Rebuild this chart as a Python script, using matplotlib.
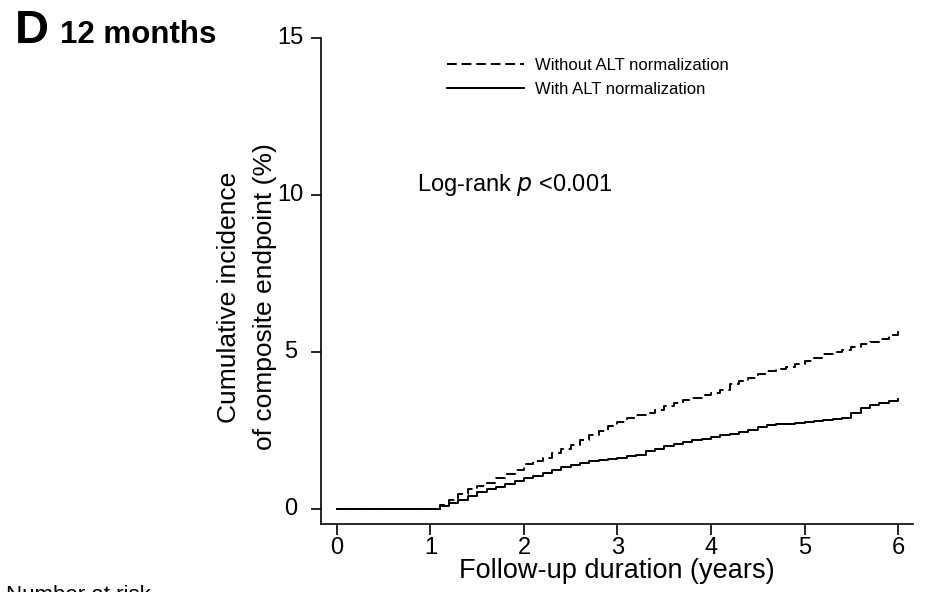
import matplotlib
matplotlib.use("Agg")
import matplotlib.pyplot as plt

plt.rcParams['font.family'] = ['Liberation Sans', 'DejaVu Sans']

# Data
years = [0.0, 1.0, 1.1, 1.2, 1.3, 1.4, 1.5, 1.6, 1.7, 1.8, 1.9, 2.0,
         2.1, 2.2, 2.3, 2.4, 2.5, 2.6, 2.7, 2.8, 2.9, 3.0,
         3.1, 3.2, 3.3, 3.4, 3.5, 3.6, 3.7, 3.8, 3.9, 4.0,
         4.1, 4.2, 4.3, 4.4, 4.5, 4.6, 4.7, 4.8, 4.9, 5.0,
         5.1, 5.2, 5.3, 5.4, 5.5, 5.6, 5.7, 5.8, 5.9, 6.0]
without_alt = [0.0, 0.0, 0.12, 0.30, 0.48, 0.62, 0.72, 0.84, 0.98, 1.10, 1.25, 1.42,
               1.52, 1.62, 1.78, 1.92, 2.05, 2.20, 2.35, 2.48, 2.65, 2.78,
               2.90, 2.98, 3.05, 3.15, 3.28, 3.38, 3.46, 3.52, 3.62, 3.68,
               3.78, 3.98, 4.08, 4.18, 4.30, 4.38, 4.45, 4.52, 4.62, 4.72,
               4.82, 4.92, 5.00, 5.06, 5.15, 5.25, 5.32, 5.42, 5.55, 5.72]
with_alt = [0.0, 0.0, 0.08, 0.18, 0.30, 0.42, 0.55, 0.62, 0.70, 0.78, 0.88, 0.98,
            1.06, 1.14, 1.24, 1.32, 1.40, 1.47, 1.52, 1.56, 1.60, 1.63,
            1.67, 1.72, 1.84, 1.92, 2.00, 2.06, 2.12, 2.18, 2.24, 2.30,
            2.35, 2.40, 2.45, 2.52, 2.60, 2.68, 2.70, 2.72, 2.73, 2.76,
            2.80, 2.84, 2.86, 2.90, 3.05, 3.20, 3.32, 3.38, 3.45, 3.50]
x_ticks = [0, 1, 2, 3, 4, 5, 6]
y_ticks = [0, 5, 10, 15]
series_labels = ["Without ALT normalization", "With ALT normalization"]

fig = plt.figure(figsize=(9.3, 5.92), dpi=100)
ax = fig.add_axes([321/930, 1 - 524/592, (913-321)/930, (524-38)/592])

l1, = ax.plot(years, without_alt, color='black', lw=1.4, ls=(0, (5, 2.5)),
              drawstyle='steps-post', label=series_labels[0])
l2, = ax.plot(years, with_alt, color='black', lw=1.4, ls='-',
              drawstyle='steps-post', label=series_labels[1])

ax.set_xlim(-0.17, 6.16)
ax.set_ylim(-0.48, 15)
ax.set_xticks(x_ticks)
ax.set_yticks(y_ticks)
for s in ['top', 'right']:
    ax.spines[s].set_visible(False)
for s in ['left', 'bottom']:
    ax.spines[s].set_linewidth(1.2)
ax.tick_params(axis='x', direction='out', length=8, width=1.2, labelsize=17, pad=1)
ax.tick_params(axis='y', direction='out', length=7, width=1.2, labelsize=17, pad=15)
for lab in ax.get_yticklabels():
    lab.set_horizontalalignment('center')
    lab.set_verticalalignment('center')

ax.set_xlabel("Follow-up duration (years)", fontsize=19.5, labelpad=0)

fig.text(229/930, 1 - 297/592, "Cumulative incidence", rotation=90,
         ha='center', va='center', fontsize=19)
fig.text(265/930, 1 - 297/592, "of composite endpoint (%)", rotation=90,
         ha='center', va='center', fontsize=19)

leg = ax.legend(handles=[l1, l2], loc='upper left',
                bbox_to_anchor=(432/930, 1 - 43/592), bbox_transform=fig.transFigure,
                frameon=False, fontsize=12, handlelength=4.6, handletextpad=0.7,
                labelspacing=0.55)

fig.text(417/930, 1 - 185/592, "Log-rank $\\it{p}$ <0.001", ha='left', va='center',
         fontsize=17)

fig.text(15/930, 1 - 43/592, "D", fontsize=34, fontweight='bold', ha='left', va='baseline')
fig.text(60/930, 1 - 43/592, "12 months", fontsize=22.5, fontweight='bold', ha='left', va='baseline')

fig.text(6/930, 1 - 585/592, "Number at risk", fontsize=16, ha='left', va='top')

fig.savefig("out.png", dpi=100)
